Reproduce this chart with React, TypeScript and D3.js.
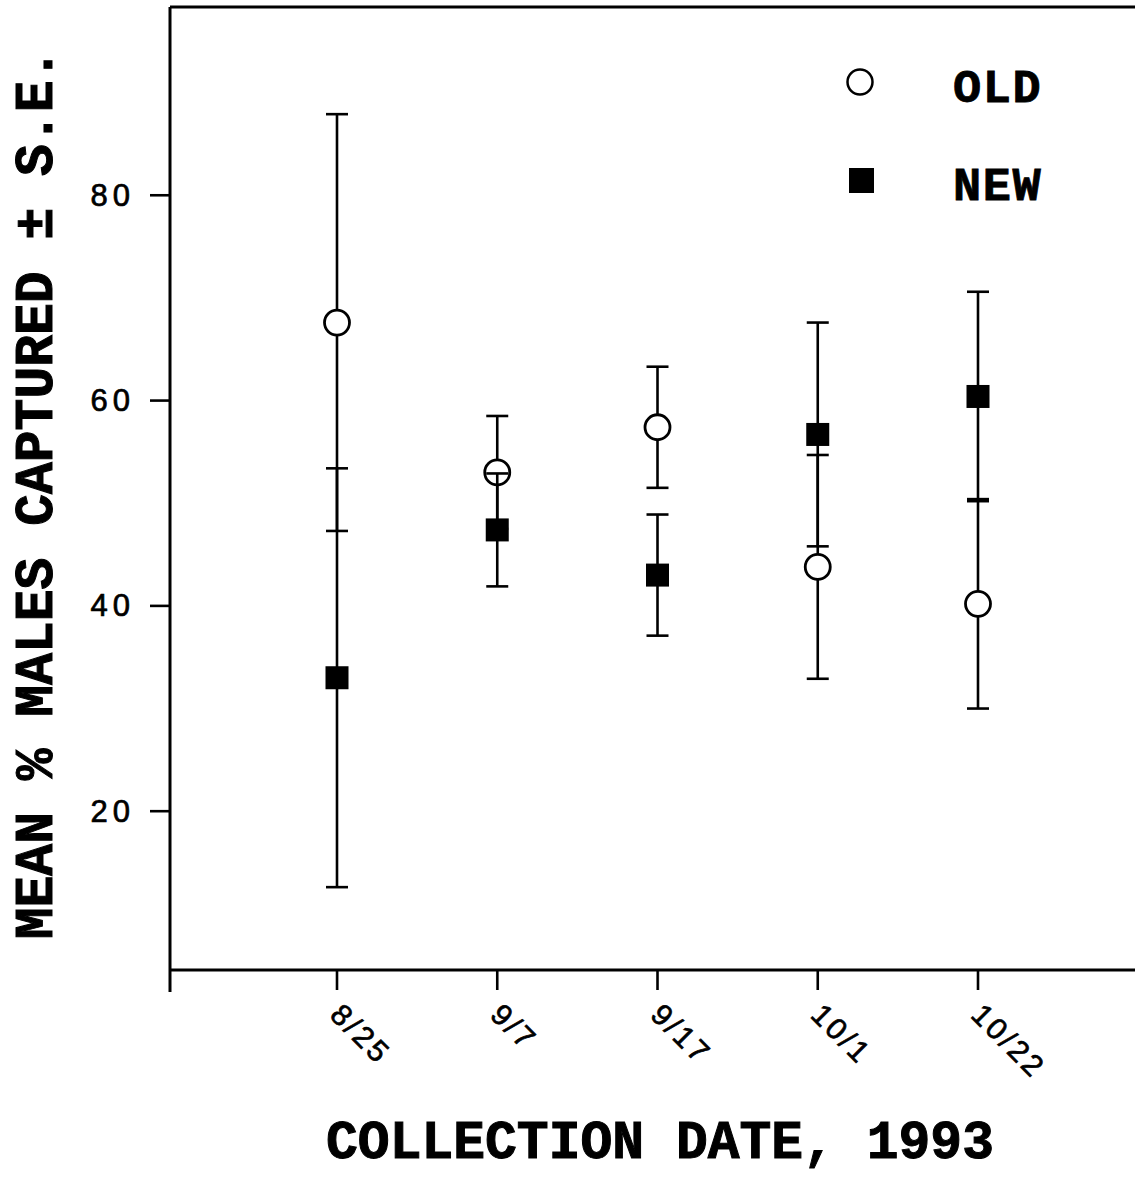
import React from "react";
import * as d3 from "d3";

// Collection dates (1993) and mean % males captured ± S.E.
const dates = ["8/25", "9/7", "9/17", "10/1", "10/22"];
const oldMean = [67.6, 53.0, 57.4, 43.8, 40.2];
const oldSE = [20.3, 5.5, 5.9, 10.9, 10.2];
const newMean = [33.0, 47.4, 43.0, 56.7, 60.4];
const newSE = [20.4, 5.5, 5.9, 10.9, 10.2];
const yTicks = [20, 40, 60, 80];
const legendLabels = ["OLD", "NEW"];

const W = 1135;
const H = 1179;
const LEFT = 170;
const TOP = 7;
const BOTTOM = 970;
const RIGHT = 1135;

const x = d3.scalePoint<string>().domain(dates).range([337, 978]);
const y = d3.scaleLinear().domain([4.53, 98.34]).range([BOTTOM, TOP]);

const MONO = "'Liberation Mono', 'Courier New', monospace";
const SANS = "'Liberation Sans', Arial, Helvetica, sans-serif";
const CAP = 11;

function ErrorBar({ cx, mean, se }: { cx: number; mean: number; se: number }) {
  const y0 = y(mean - se);
  const y1 = y(mean + se);
  return (
    <g stroke="#000" strokeWidth={2.6} fill="none">
      <line x1={cx} x2={cx} y1={y0} y2={y1} />
      <line x1={cx - CAP} x2={cx + CAP} y1={y0} y2={y0} />
      <line x1={cx - CAP} x2={cx + CAP} y1={y1} y2={y1} />
    </g>
  );
}

export default function App() {
  const sq = 23;
  return (
    <svg
      width={W}
      height={H}
      viewBox={`0 0 ${W} ${H}`}
      style={{ position: "absolute", left: 0, top: 0, background: "#fff" }}
    >
      <rect x={0} y={0} width={W} height={H} fill="#fff" />

      {/* frame: left axis, top border, bottom axis */}
      <g stroke="#000" strokeWidth={3} fill="none">
        <line x1={LEFT} x2={LEFT} y1={TOP} y2={992} />
        <line x1={LEFT} x2={RIGHT} y1={TOP} y2={TOP} />
        <line x1={LEFT} x2={RIGHT} y1={BOTTOM} y2={BOTTOM} />
      </g>

      {/* y axis ticks */}
      {yTicks.map((t) => (
        <g key={t}>
          <line x1={LEFT - 20} x2={LEFT} y1={y(t)} y2={y(t)} stroke="#000" strokeWidth={2.6} />
          <text
            x={135}
            y={y(t)}
            textAnchor="end"
            dominantBaseline="central"
            fontFamily={SANS}
            fontSize={31}
            letterSpacing={5}
            fill="#000"
            stroke="#000"
            strokeWidth={0.7}
          >
            {t}
          </text>
        </g>
      ))}

      {/* x axis ticks */}
      {dates.map((d) => (
        <g key={d}>
          <line x1={x(d)!} x2={x(d)!} y1={BOTTOM} y2={BOTTOM + 20} stroke="#000" strokeWidth={2.6} />
          <text
            transform={`translate(${x(d)! - 1},${1009}) rotate(45)`}
            textAnchor="start"
            dominantBaseline="central"
            fontFamily={SANS}
            fontSize={30}
            letterSpacing={3}
            fill="#000"
            stroke="#000"
            strokeWidth={0.7}
          >
            {d}
          </text>
        </g>
      ))}

      {/* OLD series: error bars then open circles */}
      {dates.map((d, i) => (
        <g key={`old-${d}`}>
          <ErrorBar cx={x(d)!} mean={oldMean[i]} se={oldSE[i]} />
          <circle cx={x(d)!} cy={y(oldMean[i])} r={12.5} fill="#fff" stroke="#000" strokeWidth={2.8} />
        </g>
      ))}

      {/* NEW series: error bars then filled squares */}
      {dates.map((d, i) => (
        <g key={`new-${d}`}>
          <ErrorBar cx={x(d)!} mean={newMean[i]} se={newSE[i]} />
          <rect x={x(d)! - sq / 2} y={y(newMean[i]) - sq / 2} width={sq} height={sq} fill="#000" />
        </g>
      ))}

      {/* legend */}
      <circle cx={860} cy={82} r={12.5} fill="#fff" stroke="#000" strokeWidth={2.5} />
      <rect x={849} y={168} width={25} height={25} fill="#000" />
      {legendLabels.map((l, i) => (
        <text
          key={l}
          x={953}
          y={102 + i * 98}
          fontFamily={MONO}
          fontWeight="bold"
          fontSize={47}
          letterSpacing={1.5}
          fill="#000"
          stroke="#000"
          strokeWidth={0.8}
        >
          {l}
        </text>
      ))}

      {/* axis titles */}
      <text
        transform={`translate(52,494) rotate(-90)`}
        textAnchor="middle"
        fontFamily={MONO}
        fontWeight="bold"
        fontSize={53}
        fill="#000"
        stroke="#000"
        strokeWidth={1}
      >
        MEAN % MALES CAPTURED ± S.E.
      </text>
      <text
        x={660}
        y={1158}
        textAnchor="middle"
        fontFamily={MONO}
        fontWeight="bold"
        fontSize={53}
        fill="#000"
        stroke="#000"
        strokeWidth={1}
      >
        COLLECTION DATE, 1993
      </text>
    </svg>
  );
}
